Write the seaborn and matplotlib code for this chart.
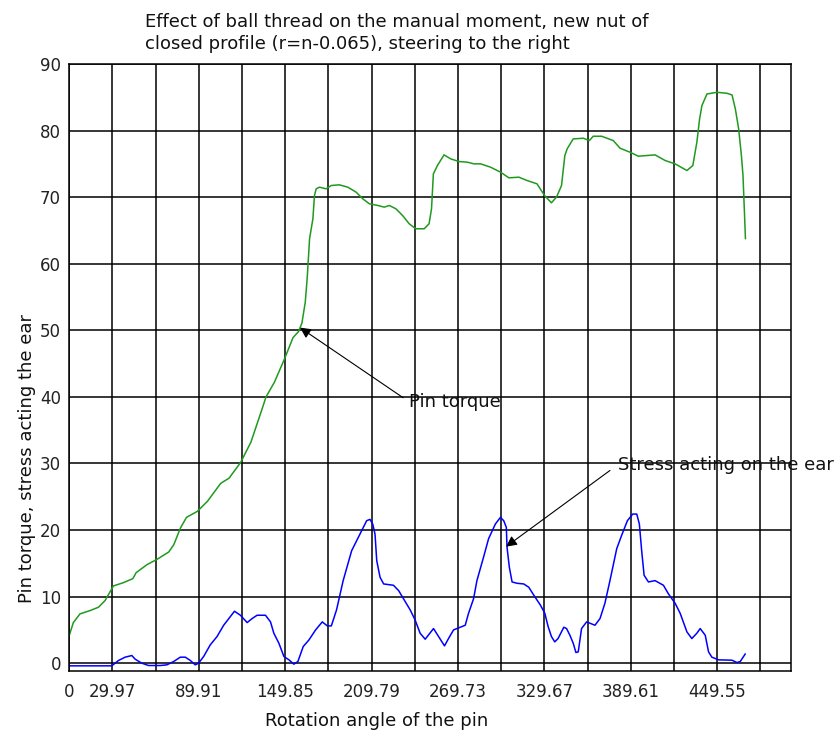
import numpy as np
import pandas as pd
import matplotlib
matplotlib.use("Agg")
import matplotlib.pyplot as plt
import seaborn as sns

# ---- data ----
torque_x = [0, 2.8, 7.4, 14.4, 20.2, 24.8, 30.6, 37.6, 44.1, 46.4, 53.9, 60.9, 69.0, 72.5, 77.1,
            81.3, 88.8, 95.8, 105.0, 110.9, 119.0, 126.0, 133.0, 136.5, 142.3, 149.3, 155.2, 159.0,
            161.4, 163.7, 165.1, 166.7, 169.0, 170.1, 171.3, 173.6, 178.2, 181.7, 187.4, 193.2,
            199.0, 203.6, 208.2, 214.0, 218.5, 222.0, 226.6, 231.2, 235.8, 240.4, 246.2, 249.6,
            251.3, 252.6, 255.4, 260.0, 264.6, 270.4, 276.2, 280.8, 285.4, 292.3, 299.2, 305.0,
            311.9, 317.6, 324.5, 329.7, 334.5, 338.0, 341.5, 343.8, 345.4, 349.6, 356.6, 360.8,
            363.5, 369.3, 377.4, 382.1, 389.0, 394.8, 406.4, 413.4, 420.3, 428.5, 432.6, 435.4,
            437.3, 438.9, 442.4, 449.3, 456.3, 459.8, 462.1, 464.4, 466.3, 467.4, 468.4, 469.1]
torque_y = [4.2, 6.1, 7.4, 7.9, 8.4, 9.4, 11.6, 12.1, 12.7, 13.6, 14.8, 15.6, 16.7, 17.8, 20.3,
            21.9, 22.8, 24.3, 27.0, 27.8, 30.2, 33.2, 37.7, 40.0, 42.2, 45.7, 48.9, 49.8,
            51.1, 54.2, 58.0, 63.75, 66.75, 70.25, 71.25, 71.5, 71.25, 71.75, 71.85, 71.5,
            70.75, 69.75, 69.0, 68.75, 68.5, 68.75, 68.25, 67.25, 66.0, 65.25, 65.25, 66.0,
            68.25, 73.5, 74.75, 76.35, 75.75, 75.35, 75.25, 75.0, 75.0, 74.5, 73.75, 72.9,
            73.0, 72.5, 72.0, 70.25, 69.15, 70.0, 71.75, 76.25, 77.25, 78.75, 78.85, 78.5,
            79.15, 79.15, 78.5, 77.35, 76.75, 76.15, 76.35, 75.5, 75.0, 74.0, 74.75, 78.25,
            81.75, 83.75, 85.5, 85.75, 85.6, 85.35, 83.25, 80.25, 76.25, 73.25, 67.75, 63.75]

stress_x = [0, 29.45, 34.1, 38.7, 43.4, 45.7, 50.3, 55.0, 63.1, 67.7, 72.4, 77.0, 80.5, 84.0,
            87.4, 89.7, 93.2, 97.8, 102.5, 107.1, 111.8, 114.6, 118.7, 123.4, 126.8, 130.3,
            136.1, 139.6, 141.9, 145.4, 148.9, 152.4, 155.8, 158.6, 162.3, 166.3, 170.9, 175.5,
            179.0, 181.8, 185.4, 190.0, 195.9, 201.7, 206.3, 208.6, 210.5, 212.1, 213.3, 215.6,
            218.1, 221.4, 224.9, 228.5, 231.8, 236.5, 239.9, 243.4, 246.9, 252.7, 256.2, 260.3,
            263.1, 266.6, 271.2, 274.7, 277.0, 280.5, 282.8, 287.5, 290.9, 295.6, 299.1, 301.4,
            303.2, 303.7, 305.3, 307.2, 310.7, 315.3, 318.8, 322.3, 326.9, 329.9, 332.2, 334.5,
            336.8, 339.1, 343.1, 345.0, 347.3, 349.6, 351.5, 353.1, 354.3, 355.4, 358.9, 362.4,
            364.7, 368.2, 371.6, 375.1, 379.8, 383.2, 387.2, 390.9, 393.7, 395.5, 397.1, 398.8,
            401.8, 406.4, 412.2, 415.7, 420.3, 423.8, 428.5, 431.9, 435.4, 437.7, 441.2, 443.5,
            445.8, 450.5, 459.7, 463.2, 465.5, 469.0]
stress_y = [-0.4, -0.4, 0.4, 0.9, 1.15, 0.6, 0.0, -0.35, -0.35, -0.25, 0.25, 0.9, 0.9, 0.4,
            -0.25, 0.0, 1.0, 2.75, 4.0, 5.7, 7.0, 7.8, 7.2, 6.1, 6.7, 7.2,
            7.2, 6.2, 4.5, 3.0, 1.0, 0.5, -0.15, 0.25, 2.5, 3.5, 5.0, 6.2,
            5.6, 5.6, 8.0, 12.4, 16.9, 19.4, 21.4, 21.6, 20.9, 19.4, 15.4, 12.9,
            11.9, 11.8, 11.7, 10.9, 9.7, 8.0, 6.5, 4.5, 3.6, 5.2, 4.0, 2.6,
            3.7, 5.0, 5.4, 5.7, 7.5, 9.7, 12.4, 16.0, 18.7, 20.9, 21.9, 21.4,
            20.4, 17.4, 14.4, 12.2, 12.0, 11.9, 11.4, 10.2, 8.7, 7.5, 5.5, 4.0,
            3.2, 3.7, 5.4, 5.2, 4.2, 3.0, 1.6, 1.7, 3.5, 5.2, 6.2, 5.9,
            5.7, 6.7, 9.0, 12.4, 17.2, 19.2, 21.4, 22.4, 22.4, 20.9, 16.9, 13.2,
            12.2, 12.4, 11.7, 10.4, 9.0, 7.5, 4.7, 3.7, 4.5, 5.2, 4.2, 1.7,
            0.9, 0.5, 0.45, 0.1, 0.25, 1.4]

xtick_step = 29.97
xtick_count = 17
xtick_labels = ["0", "29.97", "", "89.91", "", "149.85", "", "209.79", "", "269.73", "",
                "329.67", "", "389.61", "", "449.55", ""]
yticks = [0, 10, 20, 30, 40, 50, 60, 70, 80, 90]

title_lines = ["Effect of ball thread on the manual moment, new nut of",
               "closed profile (r=n-0.065), steering to the right"]
xlabel = "Rotation angle of the pin"
ylabel = "Pin torque, stress acting the ear"

# ---- plot ----
sns.set_style("white")
plt.rcParams['font.family'] = ['DejaVu Sans']

fig = plt.figure(figsize=(8.4, 7.36), dpi=100)
ax = fig.add_axes([69.3 / 840, 1 - 670.5 / 736, (790.7 - 69.3) / 840, (670.5 - 64) / 736])

df_t = pd.DataFrame({"x": torque_x, "y": torque_y})
df_s = pd.DataFrame({"x": stress_x, "y": stress_y})
sns.lineplot(data=df_t, x="x", y="y", ax=ax, color="#1f9a1f", linewidth=1.1, sort=False)
sns.lineplot(data=df_s, x="x", y="y", ax=ax, color="#0000ff", linewidth=1.1, sort=False)

ax.set_xlim(0, 500.5)
ax.set_ylim(-1.1, 90)
xt = [i * xtick_step for i in range(xtick_count)]
ax.set_xticks(xt)
ax.set_xticklabels(xtick_labels)
ax.set_yticks(yticks)
ax.set_yticklabels([str(v) for v in yticks])
ax.tick_params(axis='both', length=0, labelsize=12, colors='#222222')
ax.tick_params(axis='x', pad=9)
ax.tick_params(axis='y', pad=6)
ax.grid(True, color='black', linewidth=1.1)
ax.set_axisbelow(True)
for s in ax.spines.values():
    s.set_color('black')
    s.set_linewidth(1.1)
ax.set_xlabel("")
ax.set_ylabel("")

fig.text(145 / 840, 1 - 27 / 736, title_lines[0], fontsize=13, ha='left', va='baseline', color='#111111')
fig.text(145 / 840, 1 - 49 / 736, title_lines[1], fontsize=13, ha='left', va='baseline', color='#111111')
fig.text(265 / 840, 1 - 726 / 736, xlabel, fontsize=13, ha='left', va='baseline', color='#111111')
fig.text(27 / 840, 1 - 603 / 736, ylabel, fontsize=13, ha='center', va='bottom', rotation=90, color='#111111')

ax.annotate("Pin torque", xy=(160.1, 50.4), xytext=(235.5, 39.3),
            fontsize=13, ha='left', va='center', color='#111111', annotation_clip=False,
            arrowprops=dict(arrowstyle='-|>', color='black', lw=0.8, mutation_scale=16,
                            shrinkA=2, shrinkB=0, relpos=(0, 0.5)))
ax.annotate("Stress acting on the ear", xy=(303.0, 17.5), xytext=(380.5, 29.8),
            fontsize=13, ha='left', va='center', color='#111111', annotation_clip=False,
            arrowprops=dict(arrowstyle='-|>', color='black', lw=0.8, mutation_scale=16,
                            shrinkA=4, shrinkB=0, relpos=(0, 0.5)))

fig.savefig("out.png", dpi=100, facecolor='white')
